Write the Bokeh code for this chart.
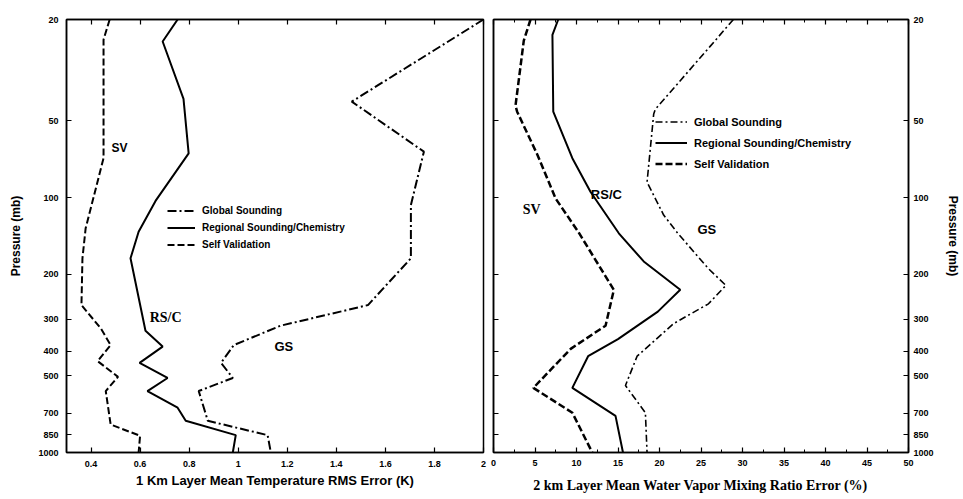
from bokeh.plotting import figure
from bokeh.layouts import row
from bokeh.models import (Range1d, FixedTicker, LinearAxis, LogAxis, Legend,
                          LegendItem, CustomJSTickFormatter)
from bokeh.core.properties import value
from bokeh.embed import file_html
from bokeh.resources import INLINE

# ---- shared pressure axis (mb) ----
pressure_ticks = [20, 50, 100, 200, 300, 400, 500, 700, 850, 1000]

# ---- temperature panel: RMS error (K) vs pressure (mb) ----
temp_ticks = [0.4, 0.6, 0.8, 1.0, 1.2, 1.4, 1.6, 1.8, 2.0]

t_gs_err = [2.0, 1.463, 1.757, 1.704, 1.704, 1.529, 1.173, 0.982, 0.93, 0.978, 0.839, 0.876, 1.12, 1.133]
t_gs_p = [20, 42, 66, 107, 173, 264, 318, 379, 445, 510, 574, 751, 855, 1000]

t_rsc_err = [0.753, 0.692, 0.777, 0.798, 0.663, 0.594, 0.561, 0.622, 0.692, 0.598, 0.712, 0.63, 0.753, 0.786, 0.99, 0.978]
t_rsc_p = [20, 24.4, 41, 67, 103, 136, 173, 333, 384, 445, 510, 574, 667, 751, 855, 1000]

t_sv_err = [0.476, 0.451, 0.451, 0.378, 0.365, 0.361, 0.44, 0.48, 0.427, 0.51, 0.46, 0.48, 0.60, 0.594]
t_sv_p = [20, 24, 70, 132, 173, 264, 326, 379, 438, 505, 574, 777, 860, 1000]

# ---- water vapour panel: mixing ratio error (%) vs pressure (mb) ----
wv_ticks = [0, 5, 10, 15, 20, 25, 30, 35, 40, 45, 50]
wv_minor_ticks = [2.5, 7.5, 12.5, 17.5, 22.5, 27.5, 32.5, 37.5, 42.5, 47.5]

w_gs_err = [28.9, 26.1, 19.5, 19.3, 18.5, 20.5, 22.2, 25.9, 28.0, 25.9, 21.7, 17.3, 15.9, 18.3, 18.5]
w_gs_p = [20, 25.5, 45, 47, 87, 117, 138, 190, 221, 261, 312, 419, 546, 698, 1000]

w_rsc_err = [7.8, 7.1, 7.2, 9.5, 11.7, 15.1, 18.1, 22.5, 19.8, 15.0, 11.4, 9.5, 14.7, 15.6]
w_rsc_p = [20, 23, 46, 70, 95, 138, 178, 230, 280, 359, 419, 558, 718, 1000]

w_sv_err = [4.46, 3.65, 2.65, 2.85, 5.3, 7.5, 10.2, 14.5, 13.5, 9.3, 4.8, 9.5, 11.9]
w_sv_p = [20, 24.2, 43.6, 46, 68, 101, 136, 230, 318, 392, 558, 698, 1000]

series_names = ["Global Sounding", "Regional Sounding/Chemistry", "Self Validation"]

SANS = "Liberation Sans"
SERIF = "Liberation Serif"

plain_fmt = CustomJSTickFormatter(code="return String(tick);")
blank_fmt = CustomJSTickFormatter(code="return '';")


def style_axis(ax, labels=True):
    ax.axis_line_color = "black"
    ax.axis_line_width = 1.5
    ax.major_tick_line_color = "black"
    ax.major_tick_line_width = 1.2
    ax.major_tick_in = 5
    ax.major_tick_out = 0
    ax.minor_tick_line_color = None
    ax.major_label_text_font = SANS
    ax.major_label_text_font_style = "bold"
    ax.major_label_text_font_size = "9px"
    ax.major_label_text_color = "black"
    ax.axis_label_text_color = "black"
    ax.axis_label_text_font_style = "bold"
    if not labels:
        ax.formatter = blank_fmt
        ax.major_label_standoff = 0


def base_figure(width, x_range, left, right, top, bottom, y_side):
    p = figure(width=width, height=499, x_range=x_range,
               y_range=Range1d(1000, 20), y_axis_type="log",
               y_axis_location=y_side,
               output_backend="svg", toolbar_location=None,
               min_border_left=left, min_border_right=right,
               min_border_top=top, min_border_bottom=bottom,
               background_fill_color="white", border_fill_color="white")
    p.grid.visible = False
    p.outline_line_color = "black"
    p.outline_line_width = 1.5
    return p


def add_legend(p, renderers, loc, row_h, glyph_w, font_size):
    items = [LegendItem(label=n, renderers=[r]) for n, r in zip(series_names, renderers)]
    leg = Legend(items=items, location=loc, padding=0, margin=0, spacing=0,
                 label_height=row_h, glyph_height=row_h, glyph_width=glyph_w,
                 label_standoff=7, border_line_color=None,
                 background_fill_alpha=0,
                 label_text_font=SANS, label_text_font_style="bold",
                 label_text_font_size=font_size, label_text_color="black")
    p.add_layout(leg)


def add_tag(p, x, y, text, font, size):
    p.text(x=[x], y=[y], text=[text], text_font=value(font),
           text_font_style="bold", text_font_size=size,
           text_align="center", text_baseline="middle", text_color="black")


# ---------------- left panel: temperature ----------------
p1 = base_figure(488, Range1d(0.3, 2.0), 66, 5, 19, 45, "left")

xa = p1.xaxis[0]
xa.ticker = FixedTicker(ticks=temp_ticks)
xa.formatter = plain_fmt
style_axis(xa)
xa.major_label_standoff = 8
xa.axis_label = "1 Km Layer Mean Temperature RMS Error (K)"
xa.axis_label_text_font = SANS
xa.axis_label_text_font_size = "13px"
xa.axis_label_standoff = 3

ya = p1.yaxis[0]
ya.ticker = FixedTicker(ticks=pressure_ticks)
ya.formatter = plain_fmt
style_axis(ya)
ya.major_label_standoff = 8
ya.axis_label = "Pressure (mb)"
ya.axis_label_text_font = SANS
ya.axis_label_text_font_size = "12px"
ya.axis_label_standoff = 12

top1 = LinearAxis(ticker=FixedTicker(ticks=temp_ticks))
style_axis(top1, labels=False)
p1.add_layout(top1, "above")

r1_gs = p1.line(t_gs_err, t_gs_p, line_color="black", line_width=2, line_dash="9 3 2 3")
r1_rsc = p1.line(t_rsc_err, t_rsc_p, line_color="black", line_width=2)
r1_sv = p1.line(t_sv_err, t_sv_p, line_color="black", line_width=2, line_dash="7 3")

add_legend(p1, [r1_gs, r1_rsc, r1_sv], (101, 199), 17, 28, "10px")

add_tag(p1, 0.516, 64, "SV", SANS, "12px")
add_tag(p1, 0.704, 294, "RS/C", SERIF, "14px")
add_tag(p1, 1.186, 384, "GS", SANS, "13px")

# ---------------- right panel: water vapour ----------------
p2 = base_figure(475, Range1d(0, 50), 5, 55, 16, 47, "right")

xb = p2.xaxis[0]
xb.ticker = FixedTicker(ticks=wv_ticks, minor_ticks=wv_minor_ticks)
style_axis(xb)
xb.minor_tick_line_color = "black"
xb.minor_tick_in = 3
xb.minor_tick_out = 0
xb.major_label_standoff = 7
xb.axis_label = "2 km Layer Mean Water Vapor Mixing Ratio Error (%)"
xb.axis_label_text_font = SERIF
xb.axis_label_text_font_size = "14px"
xb.axis_label_standoff = 9

yb = p2.yaxis[0]
yb.ticker = FixedTicker(ticks=pressure_ticks)
yb.formatter = plain_fmt
style_axis(yb)
yb.major_label_standoff = 5
yb.axis_label = "Pressure (mb)"
yb.axis_label_text_font = SANS
yb.axis_label_text_font_size = "12px"
yb.axis_label_standoff = 9

top2 = LinearAxis(ticker=FixedTicker(ticks=wv_ticks, minor_ticks=wv_minor_ticks))
style_axis(top2, labels=False)
top2.minor_tick_line_color = "black"
top2.minor_tick_in = 3
top2.minor_tick_out = 0
p2.add_layout(top2, "above")

left2 = LogAxis(ticker=FixedTicker(ticks=pressure_ticks))
style_axis(left2, labels=False)
p2.add_layout(left2, "left")

r2_gs = p2.line(w_gs_err, w_gs_p, line_color="black", line_width=1.6, line_dash="7 3 2 3")
r2_rsc = p2.line(w_rsc_err, w_rsc_p, line_color="black", line_width=2)
r2_sv = p2.line(w_sv_err, w_sv_p, line_color="black", line_width=2.5, line_dash="7 3")

add_legend(p2, [r2_gs, r2_rsc, r2_sv], (162, 278), 21, 32, "11px")

add_tag(p2, 4.6, 111, "SV", SERIF, "14px")
add_tag(p2, 13.6, 97.6, "RS/C", SANS, "13px")
add_tag(p2, 25.7, 133, "GS", SANS, "13px")

layout = row(p1, p2)

open("out.html", "w").write(file_html(layout, INLINE))
